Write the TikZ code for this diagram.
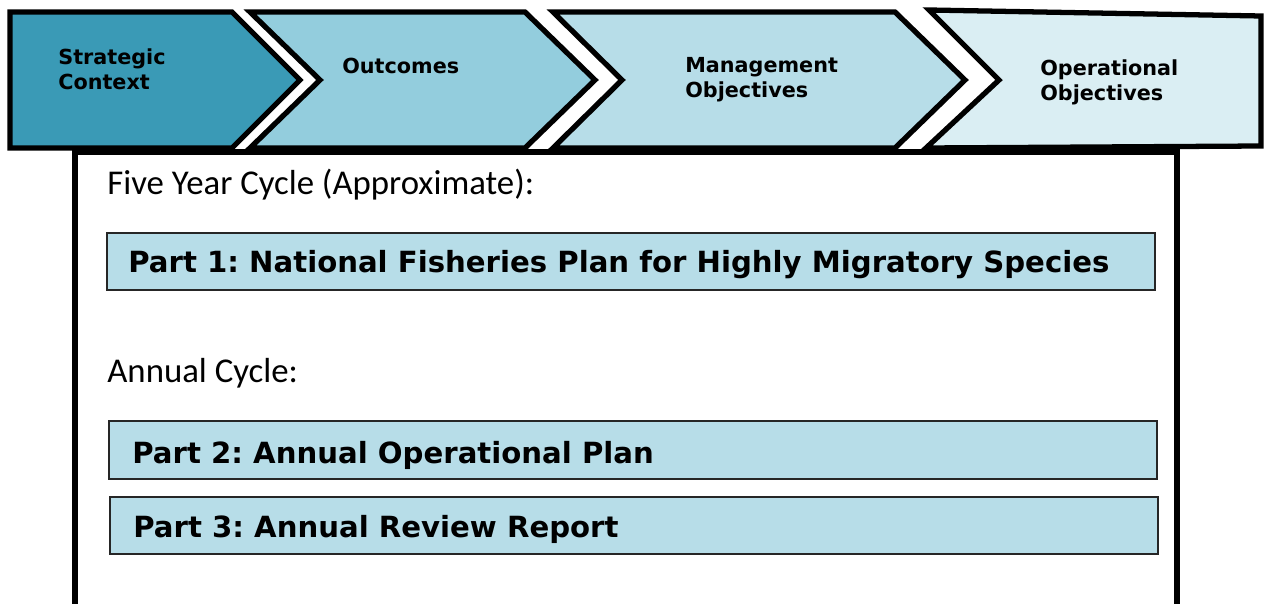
\documentclass[tikz,border=0pt]{standalone}
\usepackage{fontspec}
\setsansfont{DejaVu Sans}
\newfontfamily\cyclefont{Carlito}
\usetikzlibrary{positioning}
\frenchspacing

\definecolor{stepA}{HTML}{3A9AB6}
\definecolor{stepB}{HTML}{93CDDD}
\definecolor{stepC}{HTML}{B7DDE8}
\definecolor{stepD}{HTML}{DAEEF3}

\tikzstyle{chev} = [draw=black, line width=3pt, line join=miter]
\tikzstyle{chevlabel} = [font=\sffamily\bfseries\fontsize{11.8}{14.2}\selectfont, align=left, inner sep=0pt]
\tikzstyle{frame} = [draw=black, line width=3pt]
\tikzstyle{partbox} = [draw=black!85, line width=1.1pt, fill=stepC]
\tikzstyle{partlabel} = [font=\sffamily\bfseries\fontsize{16.6}{20}\selectfont, inner sep=0pt, anchor=base west]
\tikzstyle{cyclelabel} = [font=\cyclefont\fontsize{19.8}{23}\selectfont, inner sep=0pt, anchor=base west]

\begin{document}
\begin{tikzpicture}[x=0.02cm, y=-0.02cm]
  \clip (0,0) rectangle (1264,604);
  \fill[white] (0,0) rectangle (1264,604);

  % big frame under the arrows
  \draw[frame] (75,152) rectangle (1177,640);

  % the four steps
  \draw[chev, fill=stepA] (10,12) -- (232,12) -- (300,80) -- (232,148) -- (10,148) -- cycle;
  \draw[chev, fill=stepB] (250,12) -- (525,12) -- (595,80) -- (525,148) -- (250,148) -- (320,80) -- cycle;
  \draw[chev, fill=stepC] (553,12) -- (895,12) -- (965,80) -- (895,148) -- (553,148) -- (622,80) -- cycle;
  \draw[chev, fill=stepD] (929,10) -- (1261,16) -- (1261,146) -- (926,148) -- (999,80) -- cycle;

  \node[chevlabel, anchor=north west] (strategic) at (58,48) {Strategic\\Context};
  \node[chevlabel, anchor=base west] (outcomes) at (342,74) {Outcomes};
  \node[chevlabel, anchor=north west] (mgmt) at (685,57) {Management\\Objectives};
  \node[chevlabel, anchor=north west] (oper) at (1040,59) {Operational\\Objectives};

  % cycles and plan parts
  \node[cyclelabel] (fiveyear) at (107,195) {Five Year Cycle (Approximate):};
  \node[cyclelabel] (annual) at (107,382) {Annual Cycle:};

  \foreach \nm/\xa/\ya/\xb/\yb/\tx/\ty/\txt in {
      part1/107/233/1155/290/128/273/{Part 1: National Fisheries Plan for Highly Migratory Species},
      part2/109/421/1157/479/132/463/{Part 2: Annual Operational Plan},
      part3/110/497/1158/554/133/537/{Part 3: Annual Review Report}}
  {
    \draw[partbox] (\xa,\ya) rectangle (\xb,\yb);
    \node[partlabel] (\nm) at (\tx,\ty) {\txt};
  }
\end{tikzpicture}
\end{document}
